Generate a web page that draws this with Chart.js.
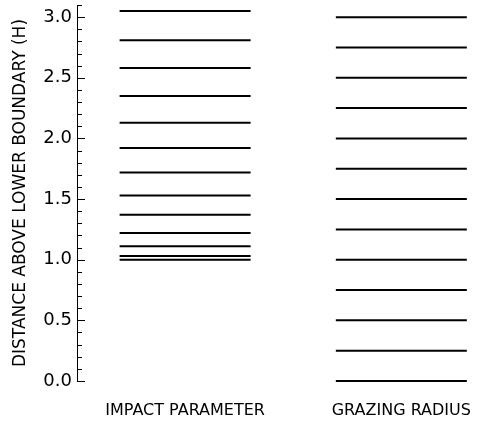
<!DOCTYPE html>
<html>
<head>
<meta charset="utf-8">
<script src="https://cdn.jsdelivr.net/npm/chart.js@4/dist/chart.umd.min.js"></script>
<style>
  html, body { margin: 0; padding: 0; background: #fff; }
  #wrap { width: 479px; height: 421px; }
</style>
</head>
<body>
<div id="wrap"><canvas id="levels"></canvas></div>
<script>
// two columns of levels, heights in units of H
const columns = ['IMPACT PARAMETER', 'GRAZING RADIUS'];
const impactParameter = [3.05, 2.81, 2.58, 2.35, 2.13, 1.92, 1.72, 1.53, 1.37, 1.22, 1.11, 1.03, 1.00];
const grazingRadius = [0, 0.25, 0.5, 0.75, 1.0, 1.25, 1.5, 1.75, 2.0, 2.25, 2.5, 2.75, 3.0];
const yTicks = [0, 0.5, 1.0, 1.5, 2.0, 2.5, 3.0];
const yMax = 3.1;

const FONT = 'DejaVu Sans';

// inward ticks on the y axis: long at labelled values, short every 0.1
const inwardTicks = {
  id: 'inwardTicks',
  afterDraw(chart) {
    const y = chart.scales.y;
    const ctx = chart.ctx;
    const x0 = y.right;
    ctx.save();
    ctx.strokeStyle = '#000';
    ctx.lineWidth = 1;
    ctx.beginPath();
    for (let i = 0; i <= Math.round(yMax * 10); i++) {
      const py = Math.round(y.getPixelForValue(i / 10)) + 0.5;
      const len = i % 5 === 0 ? 8 : 5;
      ctx.moveTo(x0, py);
      ctx.lineTo(x0 + len, py);
    }
    ctx.stroke();
    ctx.restore();
  }
};

const levelSet = (values, col) => ({
  data: values.map(v => ({ x: col, y: v })),
  showLine: false,
  clip: false,
  pointStyle: 'line',
  pointRadius: 65.5,
  pointHoverRadius: 65.5,
  borderColor: '#000',
  backgroundColor: '#000',
  borderWidth: 2
});

new Chart(document.getElementById('levels'), {
  type: 'scatter',
  data: {
    datasets: [levelSet(impactParameter, 0), levelSet(grazingRadius, 1)]
  },
  options: {
    responsive: true,
    maintainAspectRatio: false,
    animation: false,
    events: [],
    layout: { autoPadding: false, padding: { top: 5, left: 0, right: 2, bottom: 0 } },
    plugins: {
      legend: { display: false },
      tooltip: { enabled: false }
    },
    scales: {
      x: {
        type: 'linear',
        min: -0.5,
        max: 1.35,
        afterBuildTicks: s => { s.ticks = columns.map((c, i) => ({ value: i })); },
        afterFit: s => {
          s.height = 40;
          s.paddingLeft = s.paddingRight = 0;
        },
        ticks: {
          callback: v => columns[v],
          autoSkip: false,
          maxRotation: 0,
          font: { family: FONT, size: 16 },
          color: '#000',
          padding: 20
        },
        grid: { display: false, drawTicks: false },
        border: { display: false }
      },
      y: {
        min: 0,
        max: yMax,
        afterBuildTicks: s => { s.ticks = yTicks.map(v => ({ value: v })); },
        afterFit: s => {
          s.width = 77;
          s.paddingTop = s.paddingBottom = 0;
        },
        ticks: {
          callback: v => v.toFixed(1),
          font: { family: FONT, size: 18 },
          color: '#000',
          padding: 5
        },
        grid: { display: false, drawTicks: false },
        border: { display: true, color: '#000', width: 1 },
        title: {
          display: true,
          text: 'DISTANCE ABOVE LOWER BOUNDARY (H)',
          font: { family: FONT, size: 17 },
          color: '#000',
          padding: { top: 10, bottom: 13 }
        }
      }
    }
  },
  plugins: [inwardTicks]
});
</script>
</body>
</html>
